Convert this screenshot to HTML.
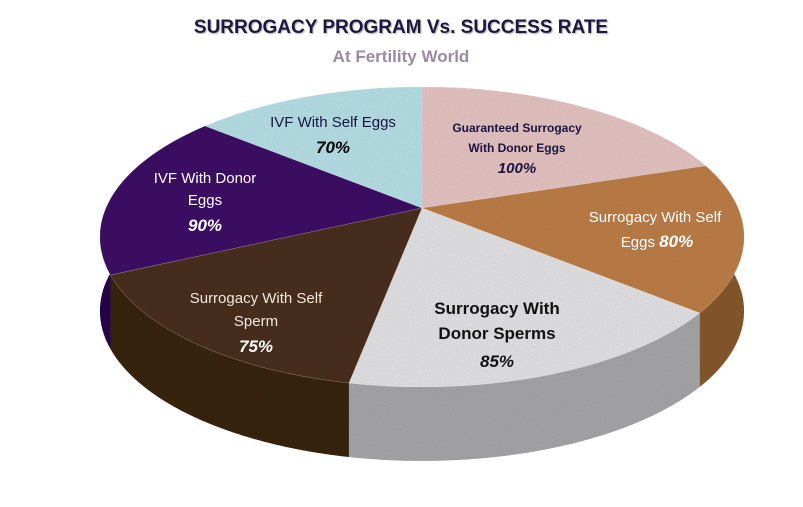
<!DOCTYPE html>
<html><head><meta charset="utf-8"><style>
body{margin:0;background:#fff;width:803px;height:507px;overflow:hidden}
svg{display:block}
</style></head><body>
<svg id="chart" width="803" height="507" viewBox="0 0 803 507" xmlns="http://www.w3.org/2000/svg" font-family="'Liberation Sans', sans-serif">
<defs>
<filter id="tex" x="0" y="0" width="100%" height="100%"><feTurbulence type="fractalNoise" baseFrequency="0.9" numOctaves="2" result="n"/><feColorMatrix in="n" type="matrix" values="0 0 0 0 0  0 0 0 0 0  0 0 0 0 0  0 0 0 0.25 0" result="a"/><feComposite in="a" in2="SourceGraphic" operator="in" result="b"/><feMerge><feMergeNode in="SourceGraphic"/><feMergeNode in="b"/></feMerge></filter>
<filter id="sh"><feDropShadow dx="1" dy="1" stdDeviation="0.6" flood-color="#888" flood-opacity="0.7"/></filter>
</defs>
<text x="401" y="33" text-anchor="middle" font-size="19" font-weight="bold" fill="#1a1440" filter="url(#sh)">SURROGACY PROGRAM Vs. SUCCESS RATE</text>
<text x="401" y="62" text-anchor="middle" font-size="17" font-weight="bold" fill="#9a8aa2">At Fertility World</text>
<g id="sides"></g>
<g id="tops"></g>
<g id="labels" font-size="15">
<text text-anchor="middle" font-size="12" font-weight="bold" fill="#1a1440"><tspan x="517" y="132">Guaranteed Surrogacy</tspan><tspan x="517" y="152">With Donor Eggs</tspan><tspan x="517" y="173" font-size="15" font-style="italic">100%</tspan></text>
<text text-anchor="middle" fill="#1a1440"><tspan x="333" y="127">IVF With Self Eggs</tspan><tspan x="333" y="153" font-size="17" font-weight="bold" font-style="italic" fill="#000">70%</tspan></text>
<text text-anchor="middle" fill="#fff"><tspan x="205" y="183">IVF With Donor</tspan><tspan x="205" y="205">Eggs</tspan><tspan x="205" y="231" font-size="17" font-weight="bold" font-style="italic">90%</tspan></text>
<text text-anchor="middle" fill="#fff"><tspan x="655" y="222">Surrogacy With Self</tspan><tspan x="657" y="247">Eggs <tspan font-size="17" font-weight="bold" font-style="italic">80%</tspan></tspan></text>
<text text-anchor="middle" font-size="17" font-weight="bold" fill="#111"><tspan x="497" y="314">Surrogacy With</tspan><tspan x="497" y="339">Donor Sperms</tspan><tspan x="497" y="367" font-style="italic">85%</tspan></text>
<text text-anchor="middle" fill="#f0e8e0"><tspan x="256" y="303">Surrogacy With Self</tspan><tspan x="256" y="326">Sperm</tspan><tspan x="256" y="352" font-size="17" font-weight="bold" font-style="italic" fill="#fff">75%</tspan></text>
</g>
</svg>
<script>
const categories = ["Guaranteed Surrogacy With Donor Eggs","Surrogacy With Self Eggs","Surrogacy With Donor Sperms","Surrogacy With Self Sperm","IVF With Donor Eggs","IVF With Self Eggs"];
const values = [100, 80, 85, 75, 90, 70];
const topColors = ["#e9c6c6","#c08048","#e6e6e8","#4c3322","#3f1467","#b9e3ea"];
const sideColors = ["#b89494","#8a5a2e","#a9a9ab","#3a2616","#2c0c4e","#8ab4ba"];
const NS = "http://www.w3.org/2000/svg";
const cx = 422, cy = 208, A = 144.4, K = 0.193, B = 316, depth = 74;
function pt(t){const u=Math.sin(t),v=Math.cos(t),d=1+K*v;return [cx+B*u/d, cy-A*v/d];}
const total = values.reduce((a,b)=>a+b,0);
const sides = document.getElementById('sides'), tops = document.getElementById('tops');
let acc = 0;
const slices = values.map((v,i)=>{const a0=acc/total*2*Math.PI;acc+=v;const a1=acc/total*2*Math.PI;return {i,a0,a1};});
slices.forEach(s=>{
  const n=60; let top=[], bot=[];
  for(let k=0;k<=n;k++){const t=s.a0+(s.a1-s.a0)*k/n;const p=pt(t);top.push(p);bot.push([p[0],p[1]+depth]);}
  const sd = "M"+top.map(p=>p.join(",")).join(" L")+" L"+bot.reverse().map(p=>p.join(",")).join(" L")+" Z";
  const side=document.createElementNS(NS,'path');
  
  
  side.setAttribute('d',sd);side.setAttribute('fill',sideColors[s.i]);side.setAttribute('filter','url(#tex)');
  sides.appendChild(side);
  const td = "M"+cx+","+cy+" L"+top.map(p=>p.join(",")).join(" L")+" Z";
  const t=document.createElementNS(NS,'path');
  
  
  t.setAttribute('d',td);t.setAttribute('fill',topColors[s.i]);t.setAttribute('filter','url(#tex)');
  t.setAttribute('stroke','#ffffff');t.setAttribute('stroke-opacity','0.3');t.setAttribute('stroke-width','0.5');
  tops.appendChild(t);
});
</script>
</body></html>
